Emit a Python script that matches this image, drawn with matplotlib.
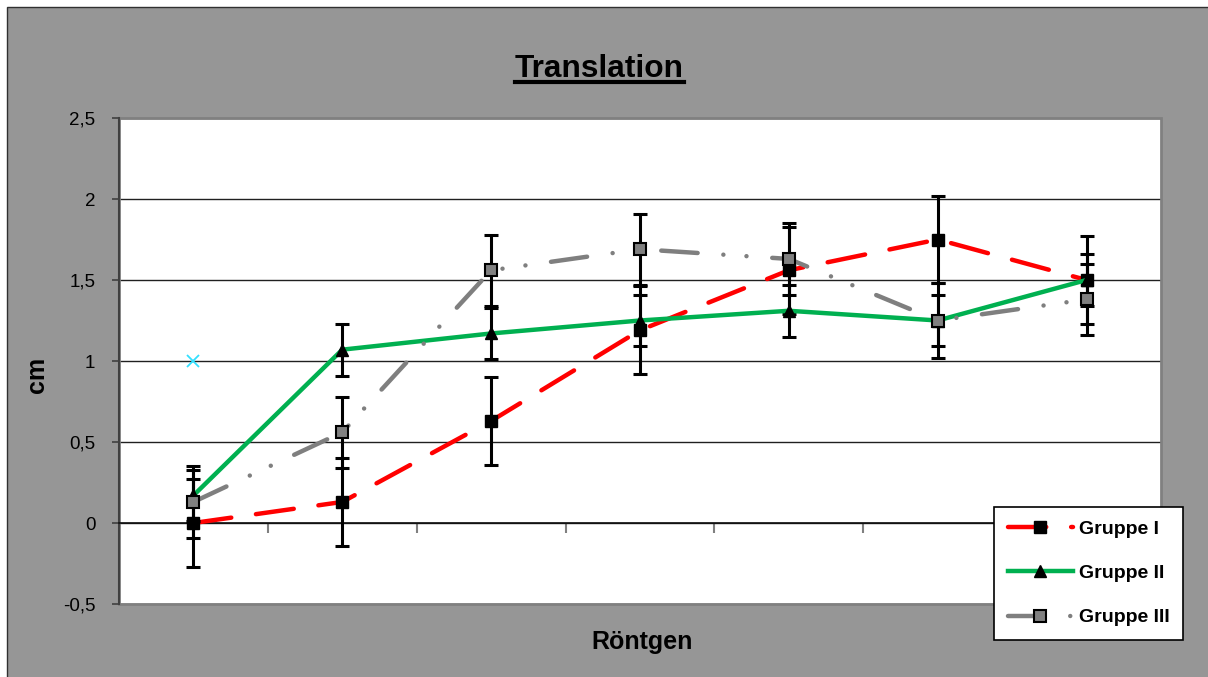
import numpy as np
import matplotlib.pyplot as plt
from matplotlib.patches import Rectangle
from matplotlib.lines import Line2D
from matplotlib.ticker import FuncFormatter, MultipleLocator

plt.rcParams['font.family'] = ['Liberation Sans', 'DejaVu Sans']

# values (7 x-ray time points, no labels shown)
positions = np.arange(7)
gruppe1 = [0.00, 0.13, 0.63, 1.19, 1.56, 1.75, 1.50]
gruppe1_err = [0.27, 0.27, 0.27, 0.27, 0.27, 0.27, 0.27]
gruppe2 = [0.17, 1.07, 1.17, 1.25, 1.31, 1.25, 1.50]
gruppe2_err = [0.16, 0.16, 0.16, 0.16, 0.16, 0.16, 0.16]
gruppe3 = [0.13, 0.56, 1.56, 1.69, 1.63, 1.25, 1.38]
gruppe3_err = [0.22, 0.22, 0.22, 0.22, 0.22, 0.23, 0.22]
# stray marker in the original sheet
stray_x = [0]
stray_y = [1.0]

W, H = 1208, 677
fig = plt.figure(figsize=(W / 100, H / 100), dpi=100, facecolor='white')

# grey chart area with dark border, starting 7 px from the top left
fig.patches.append(Rectangle((7 / W, -0.1), 1.2, 1 - 7 / H + 0.1,
                             transform=fig.transFigure, facecolor='#969696',
                             edgecolor='#303030', linewidth=1, zorder=-5))

ax = fig.add_axes([119 / W, 1 - 604 / H, (1161 - 119) / W, (604 - 118) / H])
ax.set_facecolor('white')

ax.set_xlim(-0.5, 6.5)
ax.set_ylim(-0.5, 2.5)

# horizontal grid lines
ax.yaxis.set_major_locator(MultipleLocator(0.5))
ax.grid(axis='y', color='#202020', linewidth=1)
ax.set_axisbelow(True)

# x axis crosses at 0, ticks between categories
ax.spines['bottom'].set_position(('data', 0))
ax.spines['bottom'].set_color('#101010')
ax.spines['bottom'].set_linewidth(1.2)
ax.set_xticks(np.arange(0.5, 6.5, 1.0))
ax.set_xticklabels([])
ax.tick_params(axis='x', direction='out', length=7, width=1.5, color='#808080')
ax.spines['top'].set_visible(False)
ax.spines['right'].set_visible(False)
ax.spines['left'].set_color('#404040')
ax.spines['left'].set_linewidth(1.5)

# plot-area frame
ax.add_patch(Rectangle((0, 0), 1, 1, transform=ax.transAxes, fill=False,
                       edgecolor='#808080', linewidth=2, zorder=1, clip_on=False))

ax.yaxis.set_major_formatter(FuncFormatter(lambda v, p: ('%g' % v).replace('.', ',')))
ax.tick_params(axis='y', direction='out', length=5, width=1.2, color='#404040',
               labelsize=13.5, pad=12)

err_kw = dict(fmt='none', ecolor='black', elinewidth=2.2, capsize=5, capthick=2.2)

# Gruppe I
ax.errorbar(positions, gruppe1, yerr=gruppe1_err, zorder=3, **err_kw)
l1, = ax.plot(positions, gruppe1, color='#FF0000', linewidth=3.2,
              dashes=(8.6, 5.6), dash_capstyle='round',
              marker='s', markersize=8.5, markerfacecolor='black',
              markeredgecolor='black', zorder=4, label='Gruppe I')

# Gruppe II
ax.errorbar(positions, gruppe2, yerr=gruppe2_err, zorder=5, **err_kw)
l2, = ax.plot(positions, gruppe2, color='#00B050', linewidth=3.2,
              marker='^', markersize=9, markerfacecolor='black',
              markeredgecolor='black', zorder=6, label='Gruppe II')

# Gruppe III
ax.errorbar(positions, gruppe3, yerr=gruppe3_err, zorder=7, **err_kw)
l3, = ax.plot(positions, gruppe3, color='#7F7F7F', linewidth=3.2,
              dashes=(8.2, 5.8, 0.01, 5.2, 0.01, 5.8), dash_capstyle='round',
              marker='s', markersize=8.5, markerfacecolor='#808080',
              markeredgecolor='black', markeredgewidth=1.5, zorder=8,
              label='Gruppe III')

ax.plot(stray_x, stray_y, linestyle='none', marker='x', markersize=9,
        markeredgewidth=1.3, color='#33E0FF', zorder=9)

# axis titles
ax.set_ylabel('cm', fontsize=18, fontweight='bold', va='center')
ax.yaxis.set_label_coords((37 - 119) / (1161 - 119), (604 - 375) / (604 - 118))
ax.set_xlabel('Röntgen', fontsize=18, fontweight='bold', va='center')
ax.xaxis.set_label_coords((642 - 119) / (1161 - 119), (604 - 642) / (604 - 118))

# chart title, underlined
title = fig.text(599 / W, 1 - 77 / H, 'Translation', fontsize=22.8,
                 fontweight='bold', ha='center', va='baseline')
fig.canvas.draw()
bb = title.get_window_extent()
fig.lines.append(Line2D([bb.x0 / W, bb.x1 / W], [1 - 82 / H, 1 - 82 / H],
                        transform=fig.transFigure, color='black', linewidth=3))

leg = fig.legend(handles=[l1, l2, l3], loc='upper left',
                 bbox_to_anchor=(994 / W, 1 - 507 / H), borderaxespad=0,
                 prop={'size': 14, 'weight': 'bold'}, frameon=True,
                 fancybox=False, edgecolor='black', framealpha=1,
                 handlelength=3.35, handletextpad=0.3, labelspacing=1.36,
                 borderpad=0.7, numpoints=1)
leg.get_frame().set_linewidth(1.2)

fig.savefig('out.png', dpi=100, facecolor=fig.get_facecolor())
